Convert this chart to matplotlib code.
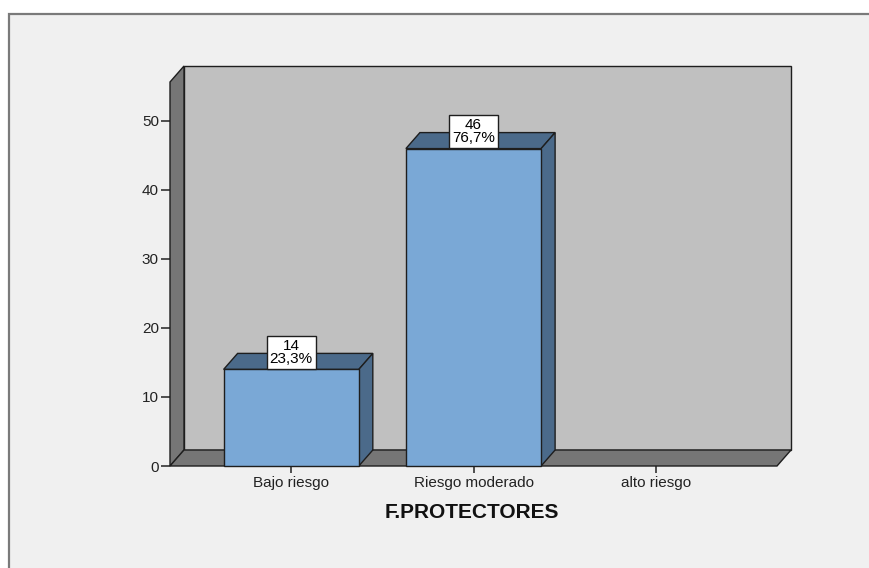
import matplotlib
matplotlib.use("Agg")
import matplotlib.pyplot as plt
from matplotlib.patches import Polygon, Rectangle

categories = ["Bajo riesgo", "Riesgo moderado", "alto riesgo"]
counts = [14, 46, 0]
percents = ["23,3%", "76,7%", "0,0%"]
yticks = [0, 10, 20, 30, 40, 50]
xlabel = "F.PROTECTORES"

plt.rcParams["font.family"] = ["Liberation Sans", "DejaVu Sans"]

W, H = 870, 568
fig = plt.figure(figsize=(W / 100, H / 100), dpi=100)
fig.patch.set_facecolor("white")

# chart frame
fig.add_artist(Rectangle((9 / W, -0.05), 1.1, (1 - 14 / H) + 0.05,
                         transform=fig.transFigure, facecolor="#f0f0f0",
                         edgecolor="#7a7a7a", linewidth=1.6, zorder=0))

ax = fig.add_axes([170 / W, (H - 466) / H, 607 / W, 384 / H])
ax.set_facecolor("none")
for s in ax.spines.values():
    s.set_visible(False)

x0, x1 = -0.665, 2.665
ytop = 55.65
ax.set_xlim(x0, x1)
ax.set_ylim(0, ytop)

# depth of the 3D box in data units (14 px right, 16 px up)
DX = 14 * (x1 - x0) / 607
DY = 16 * ytop / 384

edge = "#1e1e1e"
wall_kw = dict(edgecolor=edge, linewidth=1.0, clip_on=False)

# back wall, left wall, floor
ax.add_patch(Rectangle((x0 + DX, DY), x1 - x0, ytop, facecolor="#c0c0c0",
                       zorder=1, **wall_kw))
ax.add_patch(Polygon([(x0, 0), (x0 + DX, DY), (x0 + DX, ytop + DY), (x0, ytop)],
                     closed=True, facecolor="#767676", zorder=2, **wall_kw))
ax.add_patch(Polygon([(x0, 0), (x1, 0), (x1 + DX, DY), (x0 + DX, DY)],
                     closed=True, facecolor="#767676", zorder=2, **wall_kw))

# bars
bw = 135 / 182
front = "#7aa8d6"
dark = "#4b6a8a"
for i, v in enumerate(counts):
    if v <= 0:
        continue
    l, r = i - bw / 2, i + bw / 2
    ax.add_patch(Rectangle((l, 0), bw, v, facecolor=front, zorder=4, **wall_kw))
    ax.add_patch(Polygon([(l, v), (r, v), (r + DX, v + DY), (l + DX, v + DY)],
                         closed=True, facecolor=dark, zorder=3, **wall_kw))
    ax.add_patch(Polygon([(r, 0), (r + DX, DY), (r + DX, v + DY), (r, v)],
                         closed=True, facecolor=dark, zorder=3, **wall_kw))
    pad = 0.2
    fs = 11
    ax.annotate(f"{v}\n{percents[i]}", xy=(i, v), xytext=(0, pad * fs + 0.5),
                textcoords="offset points", ha="center", va="bottom",
                fontsize=fs, linespacing=0.88, color="black", zorder=6,
                annotation_clip=False,
                bbox=dict(boxstyle=f"square,pad={pad}", facecolor="white",
                          edgecolor=edge, linewidth=1.0))

ax.set_yticks(yticks)
ax.set_xticks(range(len(categories)))
ax.set_xticklabels(categories)
ax.tick_params(axis="y", length=6.5, width=1.2, color="#333333", pad=1.5,
               labelsize=11, labelcolor="#222222")
ax.tick_params(axis="x", length=5, width=1.2, color="#333333", pad=2,
               labelsize=11, labelcolor="#222222")

fig.text(472 / W, 1 - 512 / H, xlabel, ha="center", va="center",
         fontsize=15, fontweight="bold", color="#111111")

fig.savefig("out.png", dpi=100, facecolor=fig.get_facecolor())
